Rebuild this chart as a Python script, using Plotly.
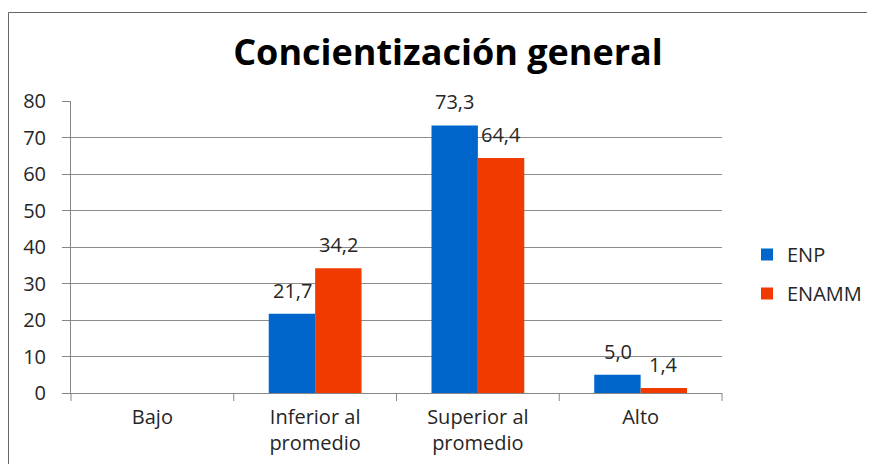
import plotly.graph_objects as go

categories = ["Bajo", "Inferior al<br>promedio", "Superior al<br>promedio", "Alto"]
series_names = ["ENP", "ENAMM"]
enp_values = [None, 21.7, 73.3, 5.0]
enamm_values = [None, 34.2, 64.4, 1.4]
y_ticks = [0, 10, 20, 30, 40, 50, 60, 70, 80]
title_text = "Concientización general"

colors = ["#0066CC", "#F03A00"]
OFF = 8  # page body margin offset
W, H = 875 - OFF, 464 - OFF
L, R, T, B = 71 - OFF, 722 - OFF, 101 - OFF, 393 - OFF
FONT = "'Open Sans', sans-serif"
TXT = "#262626"

fig = go.Figure()
for name, vals, col in zip(series_names, [enp_values, enamm_values], colors):
    fig.add_trace(go.Bar(
        name=name, x=categories, y=vals, marker=dict(color=col, line=dict(width=0)),
        legendgroup=name,
    ))

# data labels
shift = [-23, 23]
for si, vals in enumerate([enp_values, enamm_values]):
    for c, v in zip(categories, vals):
        if v is None:
            continue
        fig.add_annotation(
            x=c, y=v, xref="x", yref="y", xshift=shift[si], yshift=8,
            text=f"{v:.1f}".replace(".", ","), showarrow=False, yanchor="bottom",
            font=dict(family=FONT, size=20, color=TXT),
        )

pw = R - L
ph = B - T
# outer border lines (top and left)
bx, by = 8 - OFF, 12 - OFF
fig.add_shape(type="line", xref="paper", yref="paper",
              x0=(bx + 0.5 - L) / pw, x1=(W - L) / pw, y0=(B - by - 0.5) / ph, y1=(B - by - 0.5) / ph,
              line=dict(color="#666666", width=1))
fig.add_shape(type="line", xref="paper", yref="paper",
              x0=(bx + 0.5 - L) / pw, x1=(bx + 0.5 - L) / pw, y0=(B - by - 0.5) / ph, y1=(B - H) / ph,
              line=dict(color="#666666", width=1))

fig.update_layout(
    width=W, height=H,
    margin=dict(l=L, r=W - R, t=T, b=H - B, pad=0, autoexpand=False),
    paper_bgcolor="white", plot_bgcolor="white",
    barmode="group", bargap=0.43, bargroupgap=0,
    title=dict(text=f"<b>{title_text}</b>", x=(448 - OFF) / W, xref="container", xanchor="center",
               y=1 - (52 - OFF) / H, yref="container", yanchor="middle",
               font=dict(family=FONT, size=36, color="#000000")),
    font=dict(family=FONT, size=20, color=TXT),
    showlegend=True,
    legend=dict(x=(747 - OFF - L) / pw, xanchor="left", y=(B - (274 - OFF)) / ph, yanchor="middle",
                font=dict(family=FONT, size=20, color=TXT),
                tracegroupgap=10, bgcolor="rgba(0,0,0,0)"),
    xaxis=dict(showline=True, linecolor="#868686", linewidth=1,
               ticks="outside", ticklen=0, showgrid=False, ticklabelstandoff=6,
               tickfont=dict(family=FONT, size=20, color=TXT)),
    yaxis=dict(range=[0, 80], tickvals=y_ticks, showline=True, linecolor="#868686", linewidth=1,
               ticks="outside", ticklen=8, tickcolor="#868686",
               showgrid=True, gridcolor="#8C8C8C", gridwidth=1, zeroline=False,
               tickfont=dict(family=FONT, size=20, color=TXT), ticklabelstandoff=12),
)

# category boundary ticks on x axis
for i in range(len(categories) + 1):
    xp = i / len(categories)
    fig.add_shape(type="line", xref="paper", yref="paper", x0=xp, x1=xp, y0=0, y1=-8 / ph,
                  line=dict(color="#868686", width=1))

fig.write_html("out.html")
